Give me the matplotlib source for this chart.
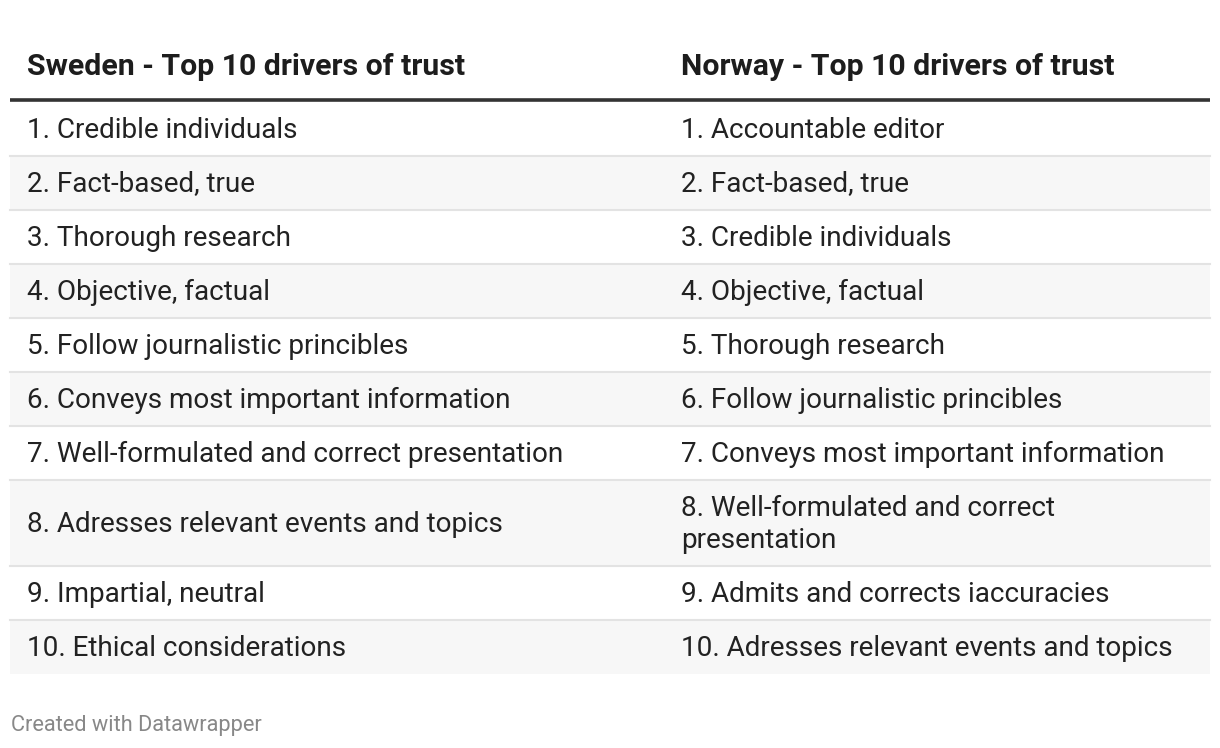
import textwrap
import matplotlib
matplotlib.use("Agg")
import matplotlib.pyplot as plt
from matplotlib.patches import Rectangle

plt.rcParams['font.family'] = ['Roboto', 'DejaVu Sans']

headers = ["Sweden - Top 10 drivers of trust", "Norway - Top 10 drivers of trust"]
sweden = [
    "1. Credible individuals",
    "2. Fact-based, true",
    "3. Thorough research",
    "4. Objective, factual",
    "5. Follow journalistic princibles",
    "6. Conveys most important information",
    "7. Well-formulated and correct presentation",
    "8. Adresses relevant events and topics",
    "9. Impartial, neutral",
    "10. Ethical considerations",
]
norway = [
    "1. Accountable editor",
    "2. Fact-based, true",
    "3. Credible individuals",
    "4. Objective, factual",
    "5. Thorough research",
    "6. Follow journalistic princibles",
    "7. Conveys most important information",
    "8. Well-formulated and correct presentation",
    "9. Admits and corrects iaccuracies",
    "10. Adresses relevant events and topics",
]
footer = "Created with Datawrapper"

W, H = 1220, 748
fig = plt.figure(figsize=(W / 100, H / 100), dpi=100)
ax = fig.add_axes([0, 0, 1, 1])
ax.set_xlim(0, W)
ax.set_ylim(H, 0)
ax.axis("off")

left, right = 10, 1210
col_x = [27, 681]
wrap_width = [46, 40]
body_size = 20.05
head_size = 21.8
text_color = "#222222"

# header
for x, h in zip(col_x, headers):
    ax.text(x, 66.5, h, fontsize=head_size, fontweight="bold", color="#1d1d1d",
            va="center", ha="left")
ax.plot([left, right], [100, 100], color="#333333", lw=2.6, solid_capstyle="butt")

base_h = 54
line_h = 32
y = 101.5
for i, (s, n) in enumerate(zip(sweden, norway)):
    cells = [textwrap.wrap(s, wrap_width[0]), textwrap.wrap(n, wrap_width[1])]
    nlines = max(len(c) for c in cells)
    rh = base_h + (nlines - 1) * line_h
    if i % 2 == 1:
        ax.add_patch(Rectangle((left, y), right - left, rh, facecolor="#f7f7f7",
                               edgecolor="none", zorder=0))
    if i > 0:
        ax.plot([left, right], [y, y], color="#e3e3e3", lw=1.5, zorder=1)
    cy = y + rh / 2 + 1.5
    for x, lines in zip(col_x, cells):
        k = len(lines)
        for j, ln in enumerate(lines):
            ty = cy + (j - (k - 1) / 2) * line_h
            ax.text(x, ty, ln, fontsize=body_size, color=text_color,
                    va="center", ha="left", zorder=2)
    y += rh

ax.text(11, 726, footer, fontsize=15.7, color="#888888", va="center", ha="left")

fig.savefig("out.png", dpi=100)
